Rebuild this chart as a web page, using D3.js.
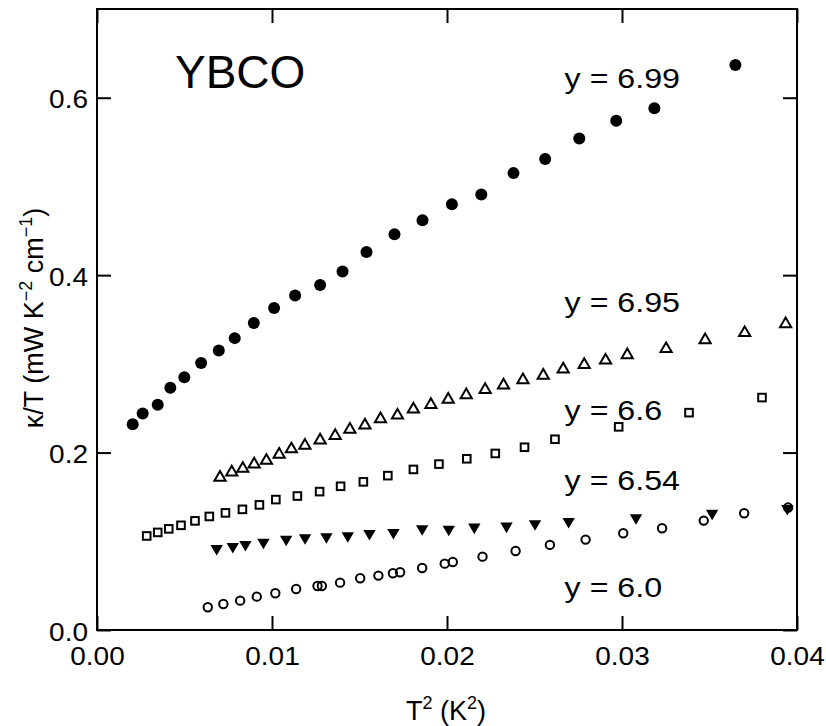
<!DOCTYPE html>
<html>
<head>
<meta charset="utf-8">
<script src="https://cdn.jsdelivr.net/npm/d3@7"></script>
<style>
  html, body { margin: 0; padding: 0; background: #fff; }
  svg { display: block; }
  text { font-family: "Liberation Sans", Arial, Helvetica, sans-serif; fill: #000; }
</style>
</head>
<body>
<svg id="chart" width="826" height="726"></svg>
<script>
// ---- Data (T^2 in K^2, kappa/T in mW K^-2 cm^-1) ----
const xTicks = [0, 0.01, 0.02, 0.03, 0.04];
const xTickLabels = ["0.00", "0.01", "0.02", "0.03", "0.04"];
const yTicks = [0, 0.2, 0.4, 0.6];
const yTickLabels = ["0.0", "0.2", "0.4", "0.6"];

const seriesNames = ["y = 6.99", "y = 6.95", "y = 6.6", "y = 6.54", "y = 6.0"];

// y = 6.99 (filled circles)
const t2_699 = [0.00204, 0.00261, 0.00347, 0.00419, 0.00499, 0.00595, 0.00696, 0.00787, 0.00896, 0.01012,
                0.01132, 0.01275, 0.01403, 0.0154, 0.017, 0.0186, 0.02028, 0.02196, 0.0238, 0.02561,
                0.02756, 0.02967, 0.03185, 0.03648];
const k_699  = [0.232, 0.244, 0.254, 0.273, 0.285, 0.301, 0.315, 0.329, 0.346, 0.363,
                0.377, 0.389, 0.404, 0.426, 0.446, 0.462, 0.480, 0.491, 0.515, 0.531,
                0.554, 0.574, 0.588, 0.637];

// y = 6.95 (open up-triangles)
const t2_695 = [0.00703, 0.0077, 0.00833, 0.00898, 0.00968, 0.01041, 0.01111, 0.01188, 0.01275, 0.01361,
                0.01445, 0.01531, 0.0162, 0.01717, 0.01808, 0.01908, 0.02007, 0.0211, 0.02218, 0.02323,
                0.02434, 0.0255, 0.02664, 0.02784, 0.02906, 0.0303, 0.03252, 0.03475, 0.03701, 0.03935];
const k_695  = [0.173, 0.179, 0.183, 0.188, 0.192, 0.199, 0.205, 0.209, 0.215, 0.220,
                0.227, 0.232, 0.239, 0.243, 0.250, 0.255, 0.261, 0.266, 0.272, 0.277,
                0.283, 0.288, 0.295, 0.300, 0.305, 0.311, 0.318, 0.328, 0.336, 0.346];

// y = 6.6 (open squares)
const t2_66 = [0.00284, 0.00347, 0.0041, 0.0048, 0.0056, 0.00642, 0.00734, 0.00831, 0.00928, 0.01022,
               0.01145, 0.01272, 0.01392, 0.01522, 0.01662, 0.01808, 0.01954, 0.02113, 0.02276, 0.02443,
               0.02617, 0.02981, 0.03383, 0.038];
const k_66  = [0.106, 0.110, 0.114, 0.118, 0.123, 0.128, 0.132, 0.136, 0.141, 0.147,
               0.151, 0.156, 0.162, 0.167, 0.174, 0.181, 0.187, 0.193, 0.199, 0.206,
               0.215, 0.229, 0.245, 0.262];

// y = 6.54 (filled down-triangles)
const t2_654 = [0.00684, 0.00776, 0.00848, 0.00951, 0.01081, 0.01189, 0.01311, 0.01433, 0.01557, 0.01694,
                0.01858, 0.0201, 0.02156, 0.0234, 0.02503, 0.02695, 0.0308, 0.03515, 0.03945];
const k_654  = [0.0902, 0.0925, 0.0948, 0.0973, 0.1007, 0.1023, 0.1034, 0.1046, 0.1072, 0.1083,
                0.1125, 0.112, 0.1143, 0.1154, 0.1181, 0.1207, 0.1249, 0.130, 0.1354];

// y = 6.0 (open circles)
const t2_60 = [0.00633, 0.00722, 0.00818, 0.00913, 0.01019, 0.01138, 0.0126, 0.01285, 0.01389, 0.01504,
               0.01608, 0.01691, 0.01732, 0.01858, 0.01987, 0.02033, 0.02203, 0.02392, 0.02588, 0.02792,
               0.03007, 0.03229, 0.03467, 0.03698, 0.03949];
const k_60  = [0.0256, 0.0293, 0.0331, 0.0376, 0.0414, 0.0462, 0.0496, 0.0496, 0.0534, 0.0583,
               0.0613, 0.064, 0.0651, 0.0699, 0.0748, 0.0767, 0.0827, 0.0891, 0.0959, 0.1019,
               0.1091, 0.1147, 0.1233, 0.1316, 0.138];

// Label anchor values (data coordinates)
const labelX = [0.02672, 0.02672, 0.02672, 0.02672, 0.02672];
const labelY = [0.611, 0.359, 0.237, 0.158, 0.0375];

// ---- Chart ----
const svg = d3.select("#chart");
const mLeft = 97, mRight = 797, mTop = 9, mBottom = 630;
const x = d3.scaleLinear().domain([0, 0.04]).range([mLeft, mRight]);
const y = d3.scaleLinear().domain([0, 0.7]).range([mBottom, mTop]);

const digitScale = 1.12;

// axes (ticks inward)
const gB = svg.append("g").attr("transform", `translate(0,${mBottom})`)
  .call(d3.axisBottom(x).tickValues(xTicks).tickSizeInner(-14).tickSizeOuter(0)
        .tickFormat((d, i) => xTickLabels[i]));
const gT = svg.append("g").attr("transform", `translate(0,${mTop})`)
  .call(d3.axisTop(x).tickValues(xTicks).tickSizeInner(-14).tickSizeOuter(0).tickFormat(""));
const gL = svg.append("g").attr("transform", `translate(${mLeft},0)`)
  .call(d3.axisLeft(y).tickValues(yTicks).tickSizeInner(-14).tickSizeOuter(0)
        .tickFormat((d, i) => yTickLabels[i]));
const gR = svg.append("g").attr("transform", `translate(${mRight},0)`)
  .call(d3.axisRight(y).tickValues(yTicks).tickSizeInner(-14).tickSizeOuter(0).tickFormat(""));

[gB, gT, gL, gR].forEach(g => {
  g.select(".domain").remove();
  g.selectAll(".tick line").attr("stroke", "#000").attr("stroke-width", 2);
});

gB.selectAll(".tick text")
  .attr("font-size", 25).attr("font-family", null)
  .attr("y", null).attr("dy", null)
  .attr("transform", `translate(0,35) scale(${digitScale},1)`)
  .attr("text-anchor", "middle");
gL.selectAll(".tick text")
  .attr("font-size", 25).attr("font-family", null)
  .attr("x", null).attr("dy", "0.4em")
  .attr("transform", `translate(-9,0) scale(${digitScale},1)`)
  .attr("text-anchor", "end");

// frame
svg.append("rect")
  .attr("x", mLeft).attr("y", mTop)
  .attr("width", mRight - mLeft).attr("height", mBottom - mTop)
  .attr("fill", "none").attr("stroke", "#000").attr("stroke-width", 2);

// markers
const triUp = "M0,-5.5L5.6,4.2L-5.6,4.2Z";
const triDown = "M-6.2,-5L6.2,-5L0,5.6Z";

function pts(xs, ys) { return xs.map((v, i) => ({ x: v, y: ys[i] })); }

const g = svg.append("g");
// 6.0 open circles
g.selectAll(".c60").data(pts(t2_60, k_60)).join("circle")
  .attr("cx", d => x(d.x)).attr("cy", d => y(d.y)).attr("r", 4.2)
  .attr("fill", "none").attr("stroke", "#000").attr("stroke-width", 2);
// 6.54 filled down triangles
g.selectAll(".t654").data(pts(t2_654, k_654)).join("path")
  .attr("d", triDown)
  .attr("transform", d => `translate(${x(d.x)},${y(d.y)})`)
  .attr("fill", "#000");
// 6.6 open squares
g.selectAll(".s66").data(pts(t2_66, k_66)).join("rect")
  .attr("x", d => x(d.x) - 3.8).attr("y", d => y(d.y) - 3.8)
  .attr("width", 7.6).attr("height", 7.6)
  .attr("fill", "none").attr("stroke", "#000").attr("stroke-width", 2);
// 6.95 open up triangles
g.selectAll(".t695").data(pts(t2_695, k_695)).join("path")
  .attr("d", triUp)
  .attr("transform", d => `translate(${x(d.x)},${y(d.y)})`)
  .attr("fill", "none").attr("stroke", "#000").attr("stroke-width", 2)
  .attr("stroke-linejoin", "miter");
// 6.99 filled circles
g.selectAll(".c699").data(pts(t2_699, k_699)).join("circle")
  .attr("cx", d => x(d.x)).attr("cy", d => y(d.y)).attr("r", 6)
  .attr("fill", "#000");

// series labels
seriesNames.forEach((name, i) => {
  svg.append("text")
    .attr("transform", `translate(${x(labelX[i])},${y(labelY[i])}) scale(1.15,1)`)
    .attr("font-size", 28)
    .text(name);
});

// YBCO
svg.append("text")
  .attr("x", 175).attr("y", 88)
  .attr("font-size", 46)
  .text("YBCO");

// axis titles
const xl = svg.append("text")
  .attr("x", 446).attr("y", 720)
  .attr("text-anchor", "middle")
  .attr("font-size", 27);
xl.append("tspan").text("T");
xl.append("tspan").attr("font-size", 18).attr("dy", -11).text("2");
xl.append("tspan").attr("dy", 11).text(" (K");
xl.append("tspan").attr("font-size", 18).attr("dy", -11).text("2");
xl.append("tspan").attr("dy", 11).text(")");

const yl = svg.append("text")
  .attr("transform", "translate(43,318) rotate(-90)")
  .attr("text-anchor", "middle")
  .attr("font-size", 27);
yl.append("tspan").text("κ/T (mW K");
yl.append("tspan").attr("font-size", 18).attr("dy", -11).text("−2");
yl.append("tspan").attr("dy", 11).text(" cm");
yl.append("tspan").attr("font-size", 18).attr("dy", -11).text("−1");
yl.append("tspan").attr("dy", 11).text(")");
</script>
</body>
</html>
